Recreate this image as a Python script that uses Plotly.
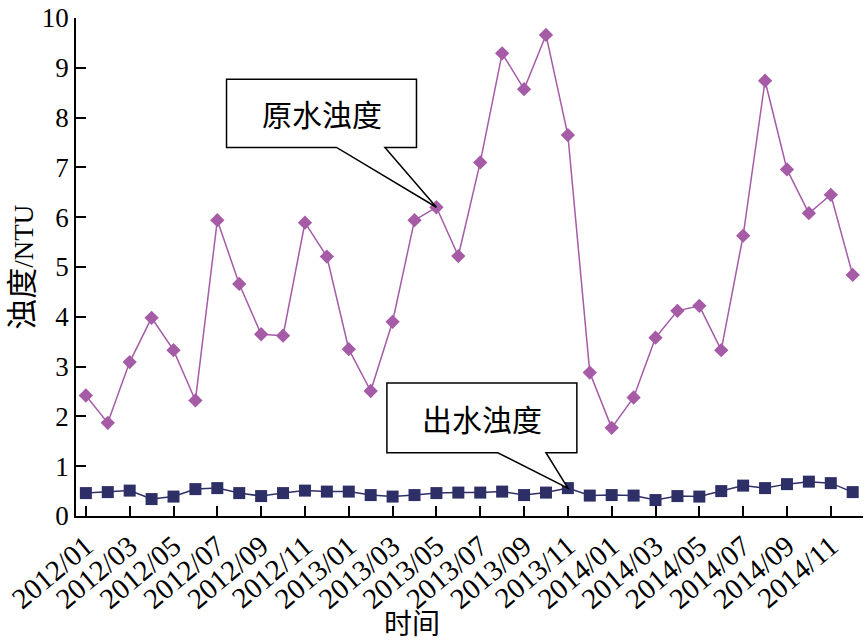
import plotly.graph_objects as go

months = [f"{y}/{m:02d}" for y in (2012, 2013, 2014) for m in range(1, 13)]
raw_turbidity = [2.42, 1.87, 3.09, 3.98, 3.33, 2.32, 5.94, 4.66, 3.65, 3.62, 5.89, 5.21,
                 3.35, 2.51, 3.90, 5.94, 6.20, 5.22, 7.10, 9.29, 8.57, 9.66, 7.65, 2.88,
                 1.77, 2.38, 3.58, 4.12, 4.22, 3.33, 5.63, 8.74, 6.96, 6.08, 6.45, 4.84]
out_turbidity = [0.46, 0.48, 0.51, 0.34, 0.39, 0.54, 0.56, 0.46, 0.40, 0.46, 0.51, 0.49,
                 0.49, 0.42, 0.39, 0.42, 0.46, 0.47, 0.47, 0.49, 0.42, 0.47, 0.56, 0.41,
                 0.42, 0.41, 0.32, 0.40, 0.39, 0.50, 0.61, 0.56, 0.64, 0.69, 0.66, 0.48]
tick_labels = months[::2]
y_ticks = list(range(0, 11))

idx = list(range(len(months)))
tick_idx = idx[::2] + [35.47]
tick_text = tick_labels + [""]

PURPLE = "#A55BA6"
NAVY = "#2D2F66"
SERIF = "Liberation Serif, Times New Roman, Times, serif"
CJK = "Noto Sans CJK SC"

fig = go.Figure()
fig.add_trace(go.Scatter(
    x=idx, y=raw_turbidity, mode="lines+markers", name="原水浊度",
    line=dict(color=PURPLE, width=1.5),
    marker=dict(symbol="diamond", size=11, color=PURPLE),
    customdata=months, hovertemplate="%{customdata}: %{y}<extra>原水浊度</extra>"))
fig.add_trace(go.Scatter(
    x=idx, y=out_turbidity, mode="lines+markers", name="出水浊度",
    line=dict(color=NAVY, width=1.5),
    marker=dict(symbol="square", size=12, color=NAVY),
    customdata=months, hovertemplate="%{customdata}: %{y}<extra>出水浊度</extra>"))

def callout(x0, x1, y0, y1, bx0, bx1, tip, text):
    tx, ty = tip
    path = (f"M{x0},{y1} L{x1},{y1} L{x1},{y0} L{bx1},{y0} L{tx},{ty} "
            f"L{bx0},{y0} L{x0},{y0} Z")
    fig.add_shape(type="path", path=path, xref="x", yref="y", layer="above",
                  fillcolor="white", line=dict(color="black", width=1.5))
    fig.add_annotation(x=(x0 + x1) / 2, y=(y0 + y1) / 2, xref="x", yref="y",
                       xanchor="center", yanchor="middle",
                       text=text, showarrow=False,
                       font=dict(family=CJK, size=30, color="black"))

callout(6.42, 15.09, 7.40, 8.77, 11.44, 13.65, (16, raw_turbidity[16]), "原水浊度")
callout(13.74, 22.41, 1.27, 2.67, 18.80, 21.0, (22, out_turbidity[22]), "出水浊度")

fig.add_annotation(x=-0.069, y=0.5, xref="paper", yref="paper", textangle=-90,
                   xanchor="center", yanchor="middle",
                   text="<span style='font-size:31px'>浊度</span>/NTU", showarrow=False,
                   font=dict(family=SERIF + ", " + CJK, size=27, color="black"))
fig.add_annotation(x=0.427, y=-0.213, xref="paper", yref="paper",
                   xanchor="center", yanchor="middle",
                   text="时间", showarrow=False,
                   font=dict(family=CJK, size=28, color="black"))

fig.update_layout(
    width=865, height=643,
    margin=dict(l=76, r=2, t=18, b=127),
    paper_bgcolor="white", plot_bgcolor="white",
    showlegend=False,
    font=dict(family=SERIF, color="black"),
)
fig.update_xaxes(
    range=[-0.45, 35.47], tickmode="array", tickvals=tick_idx, ticktext=tick_text,
    tickangle=-40, ticks="inside", ticklen=10, tickwidth=1.5, tickcolor="black",
    showline=True, linecolor="black", linewidth=1.5, showgrid=False, zeroline=False,
    tickfont=dict(family=SERIF, size=29, color="black"))
fig.update_yaxes(
    range=[0, 10], tickmode="array", tickvals=y_ticks,
    ticks="inside", ticklen=10, tickwidth=1.5, tickcolor="black",
    showline=True, linecolor="black", linewidth=1.5, showgrid=False, zeroline=False,
    tickfont=dict(family=SERIF, size=27, color="black"))

fig.write_html("out.html")
